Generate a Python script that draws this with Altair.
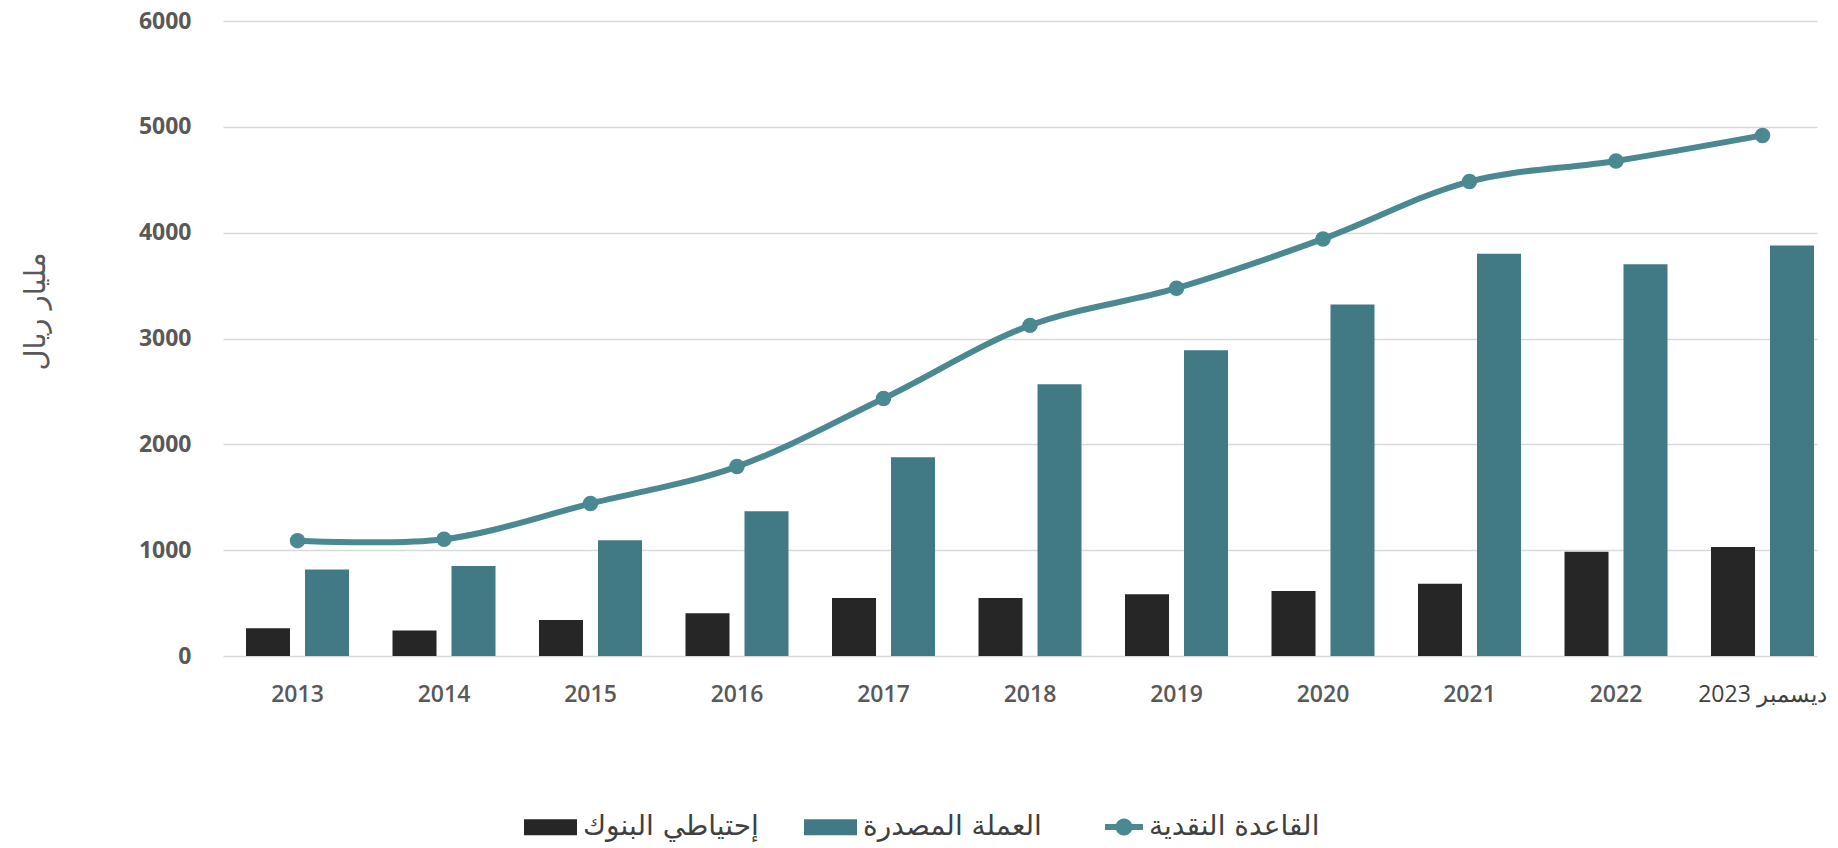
import altair as alt
import pandas as pd

years = ["2013", "2014", "2015", "2016", "2017", "2018", "2019", "2020", "2021", "2022", "ديسمبر 2023"]
base_money = [1090, 1103, 1440, 1790, 2433, 3124, 3475, 3941, 4483, 4678, 4919]
currency = [817, 851, 1094, 1368, 1878, 2567, 2888, 3321, 3800, 3702, 3878]
reserves = [262, 242, 339, 404, 549, 549, 583, 615, 682, 984, 1029]

S_RES = "إحتياطي البنوك"
S_CUR = "العملة المصدرة"
S_BASE = "القاعدة النقدية"
Y_TITLE = "مليار ريال"
y_ticks = [0, 1000, 2000, 3000, 4000, 5000, 6000]

BLACK = "#262626"
TEAL_BAR = "#417a84"
TEAL_LINE = "#4a8892"

bars_df = pd.DataFrame({
    "year": years * 2,
    "series": [S_RES] * len(years) + [S_CUR] * len(years),
    "value": reserves + currency,
})
line_df = pd.DataFrame({"year": years, "series": [S_BASE] * len(years), "value": base_money})

last = years[-1]
xscale = alt.Scale(domain=years, paddingInner=0.2969, paddingOuter=0.0887, align=0.885)
yscale = alt.Scale(domain=[0, 6000], nice=False)

xaxis = alt.Axis(
    title=None, domain=False, ticks=False, grid=False, labelAngle=0,
    labelFont="Open Sans", labelFontSize=23,
    labelFontWeight={"condition": {"test": f"datum.value === '{last}'", "value": 400}, "value": 600},
    labelColor={"condition": {"test": f"datum.value === '{last}'", "value": "#3f3f3f"}, "value": "#595959"},
    labelPadding=27,
)
yaxis = alt.Axis(
    values=y_ticks, format="d", title=Y_TITLE, grid=True, gridColor="#d9d9d9", gridWidth=1.5,
    domain=False, ticks=False, labelPadding=32, labelFont="Open Sans", labelFontSize=23,
    labelFontWeight=700, labelColor="#595959",
    titleFont="DejaVu Sans", titleFontSize=29, titleFontWeight="normal", titleColor="#595959",
    titleX=-188, titleY=290, titleAlign="center", titleBaseline="middle",
)

rect_path = "M-1,-0.3L1,-0.3L1,0.3L-1,0.3Z"
line_path = "M-1,-0.16L1,-0.16L1,0.16L-1,0.16Z M-0.45,0A0.45,0.45 0 1,1 0.45,0A0.45,0.45 0 1,1 -0.45,0Z"

bars = alt.Chart(bars_df).mark_bar(opacity=1).encode(
    x=alt.X("year:N", scale=xscale, axis=xaxis),
    xOffset=alt.XOffset("series:N", sort=[S_RES, S_CUR],
                        scale=alt.Scale(domain=[S_RES, S_CUR], paddingInner=0.254, paddingOuter=0)),
    y=alt.Y("value:Q", scale=yscale, axis=yaxis),
    color=alt.Color("series:N", scale=alt.Scale(domain=[S_RES, S_CUR], range=[BLACK, TEAL_BAR]),
                    legend=alt.Legend(
                        title=None, orient="none", direction="horizontal", columns=2,
                        legendX=301, legendY=779.5, padding=0,
                        symbolType=rect_path, symbolSize=2809, symbolStrokeWidth=0,
                        labelFont="DejaVu Sans", labelFontSize=28, labelFontWeight="normal",
                        labelColor="#404040", labelOffset=6, columnPadding=45, labelLimit=500,
                    )),
)

line = alt.Chart(line_df).mark_line(interpolate="catmull-rom", strokeWidth=6, color=TEAL_LINE).encode(
    x=alt.X("year:N", scale=xscale, axis=xaxis),
    y=alt.Y("value:Q", scale=yscale, axis=yaxis),
)

points = alt.Chart(line_df).mark_point(filled=True, size=240, opacity=1).encode(
    x=alt.X("year:N", scale=xscale, axis=xaxis),
    y=alt.Y("value:Q", scale=yscale, axis=yaxis),
    color=alt.Color("series:N", scale=alt.Scale(domain=[S_BASE], range=[TEAL_LINE]),
                    legend=alt.Legend(
                        title=None, orient="none", direction="horizontal",
                        legendX=882, legendY=787, padding=0,
                        symbolType=line_path, symbolSize=1444, symbolStrokeWidth=0,
                        symbolFillColor=TEAL_LINE, symbolOpacity=1,
                        labelFont="DejaVu Sans", labelFontSize=28, labelFontWeight="normal",
                        labelColor="#404040", labelOffset=6, labelLimit=500,
                    )),
)

chart = alt.layer(bars, line, points).resolve_scale(color="independent").properties(
    width=1594, height=635,
    autosize=alt.AutoSizeParams(type="none"),
    padding={"left": 223, "top": 21, "right": 21, "bottom": 192},
).configure_view(stroke=None)

chart.save("out.html", embed_options={"renderer": "svg", "actions": False})
